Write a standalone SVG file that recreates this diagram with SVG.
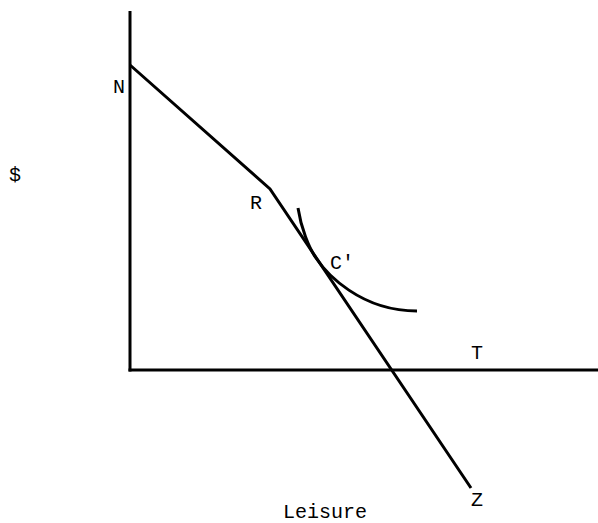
<svg xmlns="http://www.w3.org/2000/svg" width="598" height="523" viewBox="0 0 598 523">
<style>
.ln{fill:none;stroke:#000;stroke-width:3;stroke-linejoin:miter}
.lb{font-family:"Courier New","Nimbus Mono PS","Liberation Mono",monospace;font-size:20px;fill:#000}
</style>
<rect width="598" height="523" fill="#fff"/>
<g id="connectors">
<line class="ln" x1="130" y1="11" x2="130" y2="371.5"/>
<line class="ln" x1="128.5" y1="370" x2="598" y2="370"/>
<polyline class="ln" points="130,65 270,189 471,488"/>
<path class="ln" d="M298,208 C301,228 309,248 316,258 C326,273 360,311 417,311"/>
</g>
<g id="labels">
<text class="lb" x="113" y="93">N</text>
<text class="lb" x="250" y="209">R</text>
<text class="lb" x="330" y="269">C'</text>
<text class="lb" x="471" y="359">T</text>
<text class="lb" x="471" y="506">Z</text>
<text class="lb" x="9" y="181">$</text>
<text class="lb" x="283" y="518">Leisure</text>
</g>
</svg>
